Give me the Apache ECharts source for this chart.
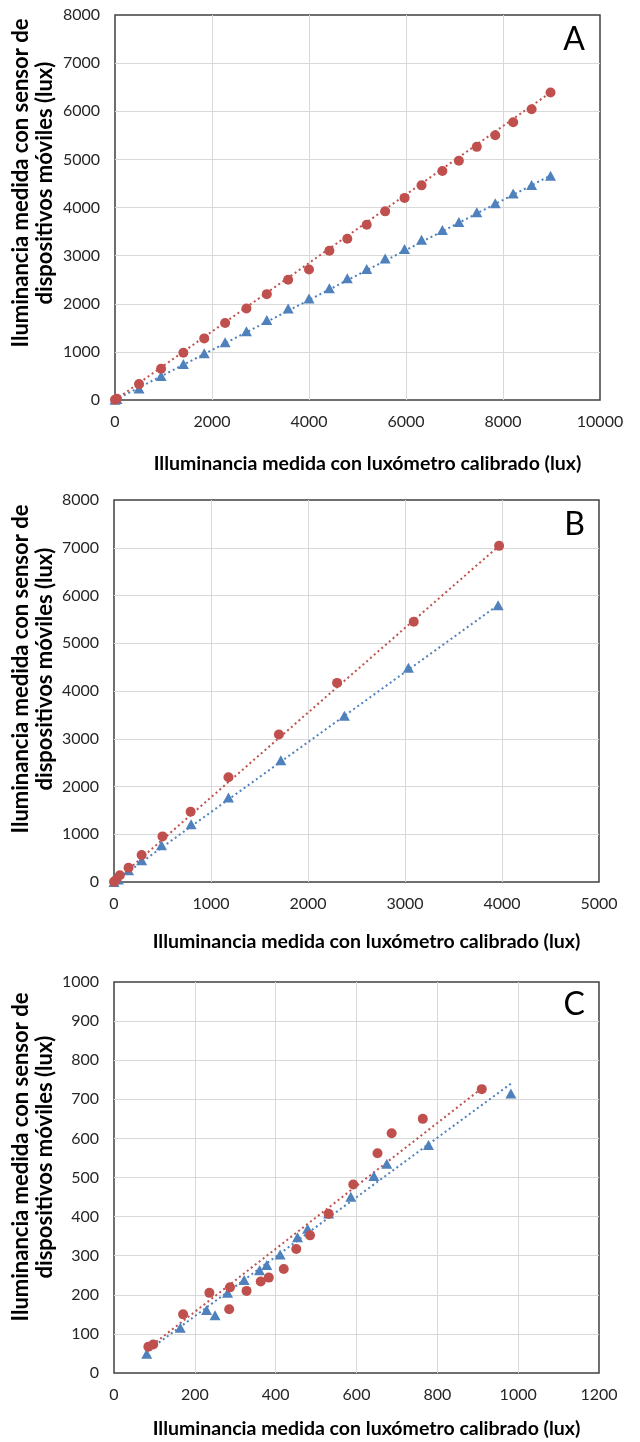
<!DOCTYPE html>
<html>
<head>
<meta charset="utf-8">
<script src="https://cdn.jsdelivr.net/npm/echarts@6/dist/echarts.min.js"></script>
<style>
  html, body { margin: 0; padding: 0; background: #fff; }
  #chart { width: 640px; height: 1442px; }
</style>
</head>
<body>
<div id="chart"></div>
<script>
// Panel A: luxómetro vs. sensor (two devices)
const aLuxX   = [0, 40, 495, 950, 1410, 1840, 2270, 2710, 3130, 3570, 4000, 4420, 4790, 5190, 5570, 5970, 6320, 6750, 7090, 7460, 7840, 8210, 8590, 8980];
const aRedY   = [5, 25, 330, 650, 980, 1280, 1600, 1900, 2200, 2500, 2710, 3100, 3350, 3640, 3920, 4200, 4460, 4760, 4970, 5260, 5500, 5770, 6040, 6390];
const aBlueY  = [5, 20, 240, 500, 750, 970, 1200, 1430, 1660, 1900, 2110, 2320, 2530, 2720, 2940, 3140, 3330, 3530, 3700, 3900, 4090, 4290, 4470, 4660];
const aRedTrend  = [[0, 0], [8980, 6390]];
const aBlueTrend = [[0, 0], [8980, 4665]];

// Panel B
const bRedX   = [0, 20, 60, 150, 285, 500, 790, 1180, 1700, 2300, 3090, 3970];
const bRedY   = [5, 40, 140, 300, 565, 955, 1470, 2195, 3090, 4170, 5450, 7040];
const bBlueX  = [0, 45, 150, 285, 490, 795, 1180, 1720, 2375, 3035, 3960];
const bBlueY  = [0, 50, 245, 455, 770, 1210, 1770, 2550, 3480, 4485, 5795];
const bRedTrend  = [[0, 0], [3970, 7040]];
const bBlueTrend = [[0, 0], [3960, 5800]];

// Panel C
const cRedX   = [85, 97, 171, 236, 287, 285, 328, 363, 383, 420, 451, 485, 531, 592, 652, 687, 764, 910];
const cRedY   = [67, 73, 150, 205, 219, 163, 210, 234, 244, 266, 317, 352, 407, 482, 562, 613, 650, 726];
const cBlueX  = [81, 164, 229, 250, 281, 322, 360, 378, 411, 454, 479, 531, 586, 643, 675, 778, 982];
const cBlueY  = [49, 116, 161, 148, 205, 238, 263, 276, 303, 347, 369, 408, 451, 504, 535, 583, 715];
const cRedTrend  = [[85, 64], [910, 728]];
const cBlueTrend = [[81, 55], [982, 740]];

// Axis ranges
const xMax = [10000, 5000, 1200];
const xStep = [2000, 1000, 200];
const yMax = [8000, 8000, 1000];
const yStep = [1000, 1000, 100];

const panelLetters = ['A', 'B', 'C'];
const xTitle = 'Illuminancia medida con luxómetro calibrado (lux)';
const yTitle = 'Iluminancia medida con sensor de\ndispositivos móviles (lux)';

const RED = '#C0504D';
const BLUE = '#4F81BD';
const FONT = 'Lato, "Open Sans", sans-serif';

function zip(xs, ys) { return xs.map((x, i) => [x, ys[i]]); }

const grids = [
  { left: 115, top: 15,  width: 485, height: 385 },
  { left: 114, top: 500, width: 485, height: 382 },
  { left: 114, top: 982, width: 485, height: 391 }
];

const panels = [
  { red: zip(aLuxX, aRedY), blue: zip(aLuxX, aBlueY), redT: aRedTrend, blueT: aBlueTrend },
  { red: zip(bRedX, bRedY), blue: zip(bBlueX, bBlueY), redT: bRedTrend, blueT: bBlueTrend },
  { red: zip(cRedX, cRedY), blue: zip(cBlueX, cBlueY), redT: cRedTrend, blueT: cBlueTrend }
];

const gridOpts = grids.map(g => Object.assign({ show: true, borderColor: '#404040', borderWidth: 1.5, backgroundColor: '#fff', containLabel: false }, g));

const axisLabelStyle = { fontFamily: FONT, fontSize: 16, color: '#262626', formatter: v => String(v) };

const xAxes = grids.map((g, i) => ({
  type: 'value', gridIndex: i, min: 0, max: xMax[i], interval: xStep[i],
  axisLine: { show: false }, axisTick: { show: false },
  splitLine: { show: true, showMinLine: false, showMaxLine: false, lineStyle: { color: '#d9d9d9', width: 1 } },
  axisLabel: Object.assign({ margin: 14 }, axisLabelStyle)
}));

const yAxes = grids.map((g, i) => ({
  type: 'value', gridIndex: i, min: 0, max: yMax[i], interval: yStep[i],
  axisLine: { show: false }, axisTick: { show: false },
  splitLine: { show: true, showMinLine: false, showMaxLine: false, lineStyle: { color: '#d9d9d9', width: 1 } },
  axisLabel: Object.assign({ margin: 15 }, axisLabelStyle)
}));

const series = [];
panels.forEach((p, i) => {
  const trendStyle = (c) => ({ color: c, width: 2, type: [2, 3] });
  series.push({ type: 'line', xAxisIndex: i, yAxisIndex: i, data: p.blueT, symbol: 'none', silent: true, z: 2, lineStyle: trendStyle(BLUE) });
  series.push({ type: 'line', xAxisIndex: i, yAxisIndex: i, data: p.redT, symbol: 'none', silent: true, z: 2, lineStyle: trendStyle(RED) });
  series.push({ type: 'scatter', xAxisIndex: i, yAxisIndex: i, data: p.blue, symbol: 'triangle', symbolSize: [11, 10], z: 3, itemStyle: { color: BLUE, opacity: 1 } });
  series.push({ type: 'scatter', xAxisIndex: i, yAxisIndex: i, data: p.red, symbol: 'circle', symbolSize: 10, z: 4, itemStyle: { color: RED, opacity: 1 } });
});

// Titles and panel letters
const graphic = [];
const xTitleY = [464, 942, 1429];
const yTitleY = [183, 669, 1157];
const letterY = [40, 525, 1005];
grids.forEach((g, i) => {
  graphic.push({
    type: 'text', x: g.left + g.width / 2 + 10, y: xTitleY[i], z: 10,
    style: { text: xTitle, font: 'bold 19.5px ' + FONT, fill: '#000', textAlign: 'center', textVerticalAlign: 'middle' }
  });
  graphic.push({
    type: 'text', x: 33, y: yTitleY[i], rotation: Math.PI / 2, z: 10,
    style: { text: yTitle, font: 'bold 22px ' + FONT, fill: '#000', textAlign: 'center', textVerticalAlign: 'middle', lineHeight: 24 }
  });
  graphic.push({
    type: 'text', x: 585, y: letterY[i], z: 10,
    style: { text: panelLetters[i], font: '32px ' + FONT, fill: '#000', textAlign: 'right', textVerticalAlign: 'middle' }
  });
});

const chart = echarts.init(document.getElementById('chart'), null, { renderer: 'canvas' });
chart.setOption({
  animation: false,
  backgroundColor: '#fff',
  grid: gridOpts,
  xAxis: xAxes,
  yAxis: yAxes,
  series: series,
  graphic: graphic
});
</script>
</body>
</html>
